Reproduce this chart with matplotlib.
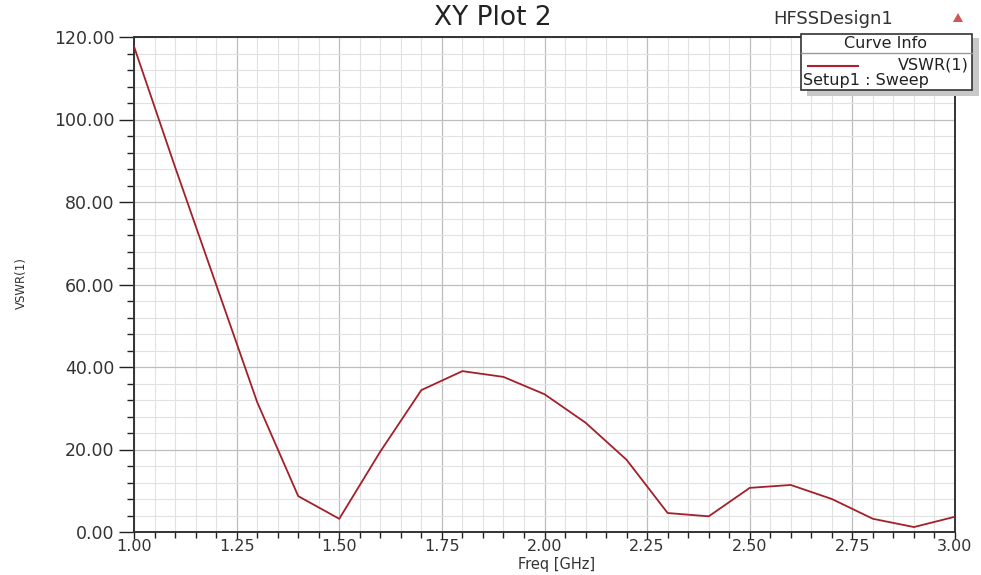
import matplotlib.pyplot as plt
from matplotlib.patches import Rectangle, Polygon
from matplotlib.lines import Line2D
from matplotlib.ticker import MultipleLocator, FormatStrFormatter

plt.rcParams['font.family'] = ['DejaVu Sans']

# 数据
freq = [1.0, 1.1, 1.2, 1.3, 1.4, 1.5, 1.6, 1.7, 1.8, 1.9, 2.0,
        2.1, 2.2, 2.3, 2.4, 2.5, 2.6, 2.7, 2.8, 2.9, 3.0]
vswr = [117.7, 88.5, 60.0, 31.5, 8.7, 3.2, 19.5, 34.4, 39.0, 37.6, 33.4,
        26.5, 17.5, 4.6, 3.8, 10.7, 11.4, 8.0, 3.2, 1.2, 3.7]

W, H = 981, 575
fig = plt.figure(figsize=(W / 100, H / 100), dpi=100)
ax = fig.add_axes([134 / W, 1 - 532 / H, (955 - 134) / W, (532 - 37) / H])

ax.plot(freq, vswr, color='#a3202a', linewidth=1.3, zorder=3)

ax.set_xlim(1.0, 3.0)
ax.set_ylim(0, 120)
ax.xaxis.set_major_locator(MultipleLocator(0.25))
ax.xaxis.set_minor_locator(MultipleLocator(0.05))
ax.yaxis.set_major_locator(MultipleLocator(20))
ax.yaxis.set_minor_locator(MultipleLocator(4))
ax.xaxis.set_major_formatter(FormatStrFormatter('%.2f'))
ax.yaxis.set_major_formatter(FormatStrFormatter('%.2f'))

ax.grid(True, which='major', color='#bdbdbd', linewidth=0.9)
ax.grid(True, which='minor', color='#e2e2e2', linewidth=0.8)
ax.set_axisbelow(True)

# 刻度
ax.tick_params(axis='y', which='major', direction='out', length=11, width=1.0,
               labelsize=12.5, colors='#222222', labelcolor='#333333', pad=3)
ax.tick_params(axis='y', which='minor', direction='out', length=5, width=1.0, colors='#222222')
ax.tick_params(axis='x', which='major', direction='out', length=5, width=1.0,
               labelsize=11.5, colors='#222222', labelcolor='#333333', pad=0)
ax.tick_params(axis='x', which='minor', direction='out', length=4, width=1.0, colors='#222222')
for s in ax.spines.values():
    s.set_color('#333333')
    s.set_linewidth(1.4)

def fx(px):
    return px / W

def fy(py):
    return 1 - py / H

# 轴标签
fig.text(fx(557), fy(564), 'Freq [GHz]', fontsize=10.5, ha='center', va='center', color='#333333')
fig.text(fx(21), fy(283), 'VSWR(1)', fontsize=8.5, rotation=90, ha='center', va='center',
         color='#333333')

# 标题
fig.text(fx(493), fy(18), 'XY Plot 2', fontsize=19, ha='center', va='center', color='#222222')
fig.text(fx(833), fy(19), 'HFSSDesign1', fontsize=13, ha='center', va='center', color='#333333')
fig.patches.append(Polygon([(fx(953), fy(22)), (fx(963), fy(22)), (fx(958), fy(13))],
                           closed=True, transform=fig.transFigure,
                           facecolor='#d05555', edgecolor='none'))

# 图例框
fig.patches.append(Rectangle((fx(807), fy(96)), fx(979 - 807), fy(38) - fy(96),
                             transform=fig.transFigure, facecolor='#c8c8c8',
                             edgecolor='none', zorder=5))
fig.patches.append(Rectangle((fx(801), fy(90)), fx(972 - 801), fy(34) - fy(90),
                             transform=fig.transFigure, facecolor='white',
                             edgecolor='#333333', linewidth=1.2, zorder=6))
fig.lines.append(Line2D([fx(801), fx(972)], [fy(53), fy(53)], transform=fig.transFigure,
                        color='#999999', linewidth=1.0, zorder=7))
fig.text(fx(885), fy(44), 'Curve Info', fontsize=11.5, ha='center', va='center',
         color='#222222', zorder=8)
fig.lines.append(Line2D([fx(808), fx(858)], [fy(66), fy(66)], transform=fig.transFigure,
                        color='#b02030', linewidth=1.5, zorder=7))
fig.text(fx(969), fy(65), 'VSWR(1)', fontsize=11.5, ha='right', va='center',
         color='#222222', zorder=8)
fig.text(fx(803), fy(80), 'Setup1 : Sweep', fontsize=11.5, ha='left', va='center',
         color='#222222', zorder=8)

plt.savefig('out.png', dpi=100)
plt.close()
